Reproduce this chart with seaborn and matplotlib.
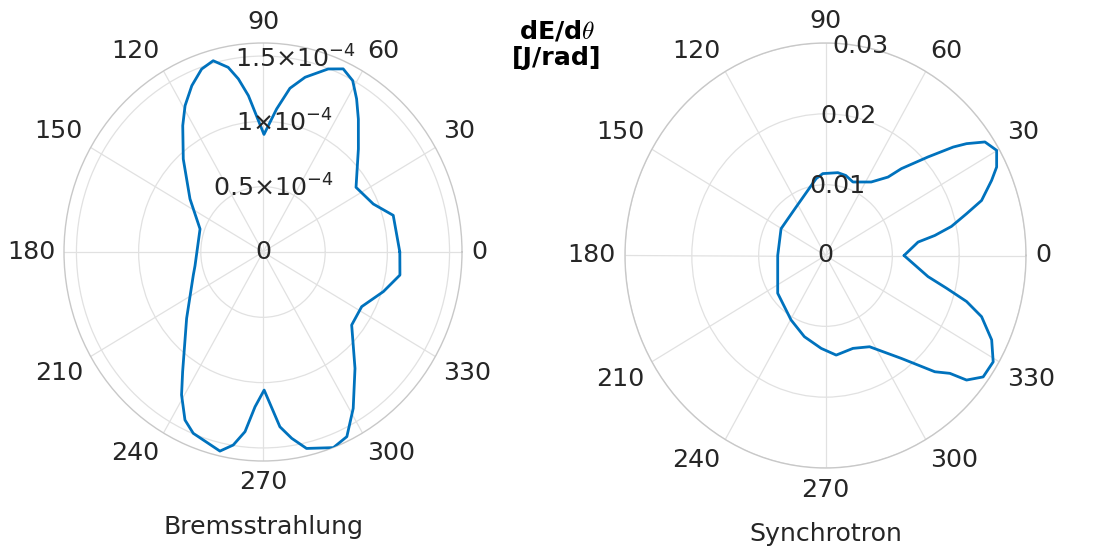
import numpy as np
import matplotlib
matplotlib.use("Agg")
import matplotlib.pyplot as plt
import seaborn as sns

# Angular distribution of radiated energy, dE/dtheta
# Bremsstrahlung: angle (deg) and value in units of 1e-4 J/rad
brems_theta = [0, 15, 22.5, 33.5, 45.8, 53, 57.3, 61.2, 65.3, 69.5, 75.8, 80.2,
               84.3, 89.5, 95.6, 98.5, 101.2, 105.3, 109.4, 114.2, 119.2, 123.7,
               132, 145.3, 160.8, 191, 197.4, 219.6, 234.8, 239.1, 244, 248,
               257.2, 260.8, 264, 266.9, 270.5, 275.8, 279.2, 283.1, 290.7,
               295.5, 301.2, 309.7, 321.9, 332.2, 342.6, 350.9]
brems_r = [1.10, 1.084, 0.96, 0.897, 1.10, 1.274, 1.393, 1.497, 1.543, 1.496, 1.38,
           1.272, 1.10, 0.90, 1.203, 1.34, 1.441, 1.518, 1.485, 1.396, 1.284, 1.163,
           0.958, 0.714, 0.536, 0.557, 0.587, 0.797, 1.121, 1.275, 1.431, 1.497,
           1.563, 1.497, 1.383, 1.187, 1.057, 1.345, 1.445, 1.544, 1.601,
           1.566, 1.40, 1.158, 0.906, 0.897, 1.014, 1.115]
brems_unit = 1e-4

# Synchrotron: angle (deg) and value in units of 0.01 J/rad
synch_theta = [0, 7.8, 9.8, 12.3, 15.6, 18.4, 23.1, 26, 30.1, 33.9, 36.8, 38.7,
               42.2, 47.2, 49.8, 56.6, 68.4, 75, 81, 92, 97.4, 106, 122.8, 150.4,
               180, 193, 216.7, 240.5, 254.6, 267.2, 276.5, 287.4, 297.1, 308,
               314.9, 318.2, 320.2, 324, 329.1, 334.4, 339.7, 342.9, 345.7, 349]
synch_r = [1.175, 1.398, 1.659, 1.929, 2.19, 2.461, 2.702, 2.849, 2.96, 2.874,
           2.636, 2.449, 2.072, 1.671, 1.45, 1.243, 1.116, 1.17, 1.184, 1.157,
           1.094, 0.957, 0.813, 0.765, 0.715, 0.734, 0.892, 1.046, 1.189, 1.313,
           1.415, 1.374, 1.447, 1.844, 2.317, 2.496, 2.747, 2.916, 2.924, 2.757,
           2.49, 2.208, 1.868, 1.563]
synch_unit = 1e-2

theta_ticks = [0, 30, 60, 90, 120, 150, 180, 210, 240, 270, 300, 330]
brems_rticks = [0, 0.5e-4, 1e-4, 1.5e-4]
brems_rlabels = ["0", r"$0.5{\times}10^{-4}$", r"$1{\times}10^{-4}$", r"$1.5{\times}10^{-4}$"]
brems_rmax = 1.6e-4
synch_rticks = [0, 0.01, 0.02, 0.03]
synch_rlabels = ["0", "0.01", "0.02", "0.03"]
synch_rmax = 0.03

LINE = "#0072BD"
TXT = "#262626"
FS = 18.2

sns.set_theme(style="white")
plt.rcParams["font.family"] = ["DejaVu Sans"]

W, H = 1098, 552
fig = plt.figure(figsize=(W / 100, H / 100), dpi=100)


def polar_axes(left, top, right, bottom):
    ax = fig.add_axes([left / W, 1 - bottom / H, (right - left) / W, (bottom - top) / H],
                      projection="polar")
    ax.set_aspect("auto")
    return ax


def draw(ax, theta_deg, r, unit, rmax, rticks, rlabels, name, baseline_px, cx_px):
    th = np.deg2rad(np.r_[theta_deg, theta_deg[0]])
    rr = np.r_[r, r[0]] * unit
    sns.lineplot(x=th, y=rr, ax=ax, sort=False, estimator=None,
                 color=LINE, linewidth=2.0, zorder=3)
    ax.set_ylim(0, rmax)
    ax.set_xticks(np.deg2rad(theta_ticks))
    ax.set_xticklabels([])
    ax.set_yticks(rticks)
    ax.set_yticklabels([])
    ax.grid(True, color="#e1e1e1", linewidth=0.9)
    ax.spines["polar"].set_color("#c8c8c8")
    ax.spines["polar"].set_linewidth(1.0)
    ax.set_xlabel("")
    ax.set_ylabel("")

    # angle labels around the rim
    for t in theta_ticks:
        a = np.deg2rad(t)
        c, s = np.cos(a), np.sin(a)
        ha = "left" if c > 0.1 else ("right" if c < -0.1 else "center")
        va = "bottom" if s > 0.1 else ("top" if s < -0.1 else "center")
        ax.text(a, rmax * 1.045, str(t), ha=ha, va=va, fontsize=FS,
                color=TXT, clip_on=False)

    # radial labels along the 80 degree direction
    for v, lab in zip(rticks, rlabels):
        ax.text(np.deg2rad(80) if v > 0 else 0, v, lab, ha="center", va="center",
                fontsize=FS, color=TXT, zorder=4)

    fig.text(cx_px / W, 1 - baseline_px / H, name, ha="center", va="baseline",
             fontsize=FS, color=TXT)


ax1 = polar_axes(64, 43, 462, 461)
draw(ax1, brems_theta, brems_r, brems_unit, brems_rmax, brems_rticks, brems_rlabels,
     "Bremsstrahlung", 534, 263)

ax2 = polar_axes(625, 43, 1026, 468)
draw(ax2, synch_theta, synch_r, synch_unit, synch_rmax, synch_rticks, synch_rlabels,
     "Synchrotron", 541, 826)

fig.text(557 / W, 1 - 44 / H, "dE/d$\\theta$\n[J/rad]", ha="center", va="center",
         fontsize=FS, fontweight="bold", color="black", linespacing=1.15,
         math_fontfamily="cm")

fig.savefig("out.png", dpi=100)
